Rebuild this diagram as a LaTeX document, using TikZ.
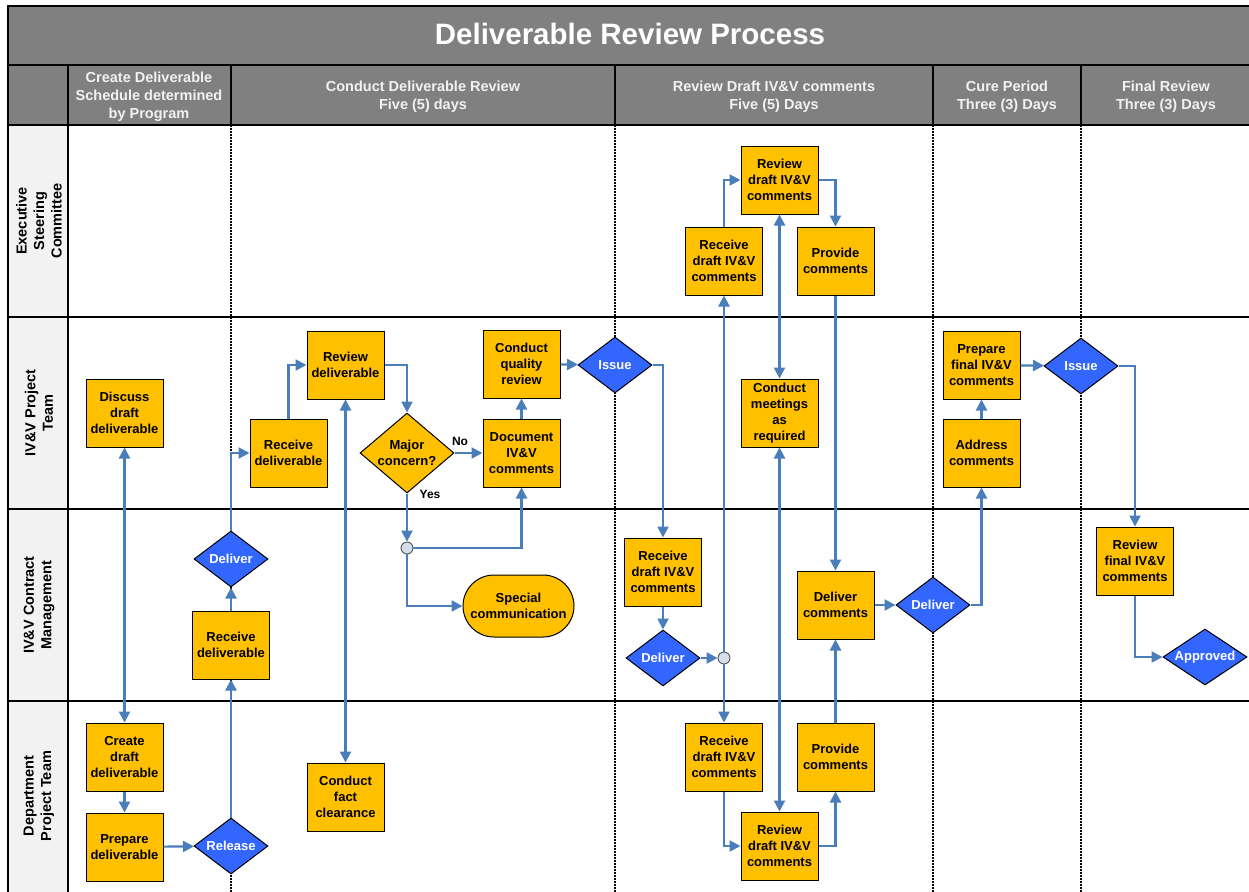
\documentclass[tikz,border=0pt]{standalone}
\usepackage{fontspec}
\setmainfont{Liberation Sans}
\usetikzlibrary{arrows.meta,shapes.geometric,positioning}

\definecolor{taskyellow}{HTML}{FFC000}
\definecolor{flowblue}{HTML}{4A7EBB}
\definecolor{gateblue}{HTML}{3366FF}
\definecolor{headgray}{HTML}{808080}
\definecolor{lanegray}{HTML}{F2F2F2}
\definecolor{junctionfill}{HTML}{D5DDEA}

\begin{document}
\begin{tikzpicture}[x=1pt,y=-1pt,>={Triangle[length=11pt,width=11pt]},
    flowline/.style={->,draw=flowblue,line width=2.2pt},
    task/.style={rectangle,draw=black,fill=taskyellow,line width=1pt,
      minimum width=77pt,minimum height=68pt,inner sep=0pt,align=center,
      font=\fontsize{13}{16}\selectfont\bfseries},
    gate/.style={diamond,draw=black,fill=gateblue,line width=1pt,
      minimum width=74pt,minimum height=56pt,inner sep=0pt,shape aspect=1.3,
      align=center,text=white,font=\fontsize{13}{16}\selectfont\bfseries},
    junction/.style={circle,draw=black!75,fill=junctionfill,line width=0.8pt,
      minimum size=12pt,inner sep=0pt},
    colhead/.style={text=lanegray,align=center,font=\fontsize{14.5}{18}\selectfont\bfseries},
    lanehead/.style={rotate=90,align=center,font=\fontsize{14.5}{17.5}\selectfont\bfseries},
    edgelabel/.style={font=\fontsize{12}{14}\selectfont\bfseries},
    laneline/.style={line width=2.5pt},
    phaseline/.style={line width=1.5pt,dash pattern=on 1.5pt off 1.5pt}]

  \useasboundingbox (0,0) rectangle (1249,891);
  \clip (0,0) rectangle (1249,891);

  % swimlane grid
  \fill[headgray] (8,6) rectangle (1260,125);
  \fill[lanegray] (8,125) rectangle (68,900);
  \draw[line width=2pt] (1260,6) -- (8,6) -- (8,900);
  \draw[line width=2pt] (68,65) -- (68,900);
  \foreach \ly in {65,125,317,509,701}
    \draw[laneline] (8,\ly) -- (1260,\ly);
  \foreach \lx in {231,615,933,1081} {
    \draw[line width=2pt] (\lx,65) -- (\lx,125);
    \draw[phaseline] (\lx,125) -- (\lx,900);
  }

  \node[text=white,font=\fontsize{29.5}{34}\selectfont\bfseries] (title) at (630,34) {Deliverable Review Process};
  \node[colhead] (hcreate) at (149,97) {Create Deliverable\\Schedule determined\\by Program};
  \node[colhead] (hconduct) at (423,97) {Conduct Deliverable Review\\Five (5) days};
  \node[colhead] (hreview) at (774,97) {Review Draft IV\&V comments\\Five (5) Days};
  \node[colhead] (hcure) at (1007,97) {Cure Period\\Three (3) Days};
  \node[colhead] (hfinal) at (1166,97) {Final Review\\Three (3) Days};

  \node[lanehead] (lexec) at (39,221) {Executive\\Steering\\Committee};
  \node[lanehead] (lteam) at (39,413) {IV\&V Project\\Team};
  \node[lanehead] (lcontract) at (39,605) {IV\&V Contract\\Management};
  \node[lanehead] (ldept) at (39,796) {Department\\Project Team};

  % Department Project Team
  \node[task] (cdraft) at (124.5,757) {Create\\draft\\deliverable};
  \node[task] (prep) [below=21pt of cdraft] {Prepare\\deliverable};
  \node[gate] (release) at (231,846) {Release};
  \node[task] (fact) at (345.5,797) {Conduct\\fact\\clearance};
  \node[task] (rddept) at (724,757) {Receive\\draft IV\&V\\comments};
  \node[task] (rvdept) at (779.5,846) {Review\\draft IV\&V\\comments};
  \node[task] (pcdept) at (835.5,757) {Provide\\comments};

  % IV&V Contract Management
  \node[task] (rcvcm) at (231,645) {Receive\\deliverable};
  \node[gate] (deliv1) at (231,559) {Deliver};
  \node[junction] (junc1) at (407,548) {};
  \node[task,rounded corners=31pt,minimum width=111pt,minimum height=62pt] (special) at (518.5,606) {Special\\communication};
  \node[task] (rdcm) at (663,572) {Receive\\draft IV\&V\\comments};
  \node[gate] (deliv2) at (663,658) {Deliver};
  \node[junction] (junc2) at (724,658) {};
  \node[task] (delc) at (835.5,605) {Deliver\\comments};
  \node[gate] (deliv3) at (933,605) {Deliver};
  \node[task] (revf) at (1135,561) {Review\\final IV\&V\\comments};
  \node[gate,minimum width=84pt,shape aspect=1.5] (approved) at (1205,657) {Approved};

  % IV&V Project Team
  \node[task] (discuss) at (124.5,413) {Discuss\\draft\\deliverable};
  \node[task] (rcvd) at (288.5,453) {Receive\\deliverable};
  \node[task] (revd) at (345.5,365) {Review\\deliverable};
  \node[gate,fill=taskyellow,text=black,minimum width=94pt,minimum height=80pt,shape aspect=1.2] (major) at (407,453) {Major\\concern?};
  \node[task] (docu) at (521.5,453) {Document\\IV\&V\\comments};
  \node[task] (quality) [above=20pt of docu] {Conduct\\quality\\review};
  \node[gate] (issue1) at (615,365) {Issue};
  \node[task] (meet) at (779.5,413) {Conduct\\meetings\\as\\required};
  \node[task] (addr) at (981.5,453) {Address\\comments};
  \node[task] (prepf) [above=19pt of addr] {Prepare\\final IV\&V\\comments};
  \node[gate] (issue2) at (1081,366) {Issue};
  \node[edgelabel] (nolbl) at (460,441) {No};
  \node[edgelabel] (yeslbl) at (430,494) {Yes};

  % Executive Steering Committee
  \node[task] (rdexec) at (724,261) {Receive\\draft IV\&V\\comments};
  \node[task] (rvexec) at (779.5,180) {Review\\draft IV\&V\\comments};
  \node[task] (pcexec) at (835.5,261) {Provide\\comments};

  \begin{scope}[flowline]
    \path (discuss) edge[<->] (cdraft)
          (cdraft) edge (prep)
          (prep) edge (release)
          (release) edge (rcvcm)
          (rcvcm) edge (deliv1)
          (revd) edge[<->] (fact)
          (major) edge (docu)
          (major) edge (junc1)
          (docu) edge (quality)
          (quality) edge (issue1)
          (rdcm) edge (deliv2)
          (deliv2) edge (junc2)
          (junc2) edge (rdexec)
          (junc2) edge (rddept)
          (rvexec) edge[<->] (meet)
          (meet) edge[<->] (rvdept)
          (pcexec) edge (delc)
          (pcdept) edge (delc)
          (delc) edge (deliv3)
          (addr) edge (prepf)
          (prepf) edge (issue2);
    \draw (deliv1) |- (rcvd);
    \draw (rcvd) |- (revd);
    \draw (revd) -| (major);
    \draw (junc1) -| (docu);
    \draw (junc1) |- (special);
    \draw (issue1) -| (rdcm);
    \draw (rdexec) |- (rvexec);
    \draw (rvexec) -| (pcexec);
    \draw (rddept) |- (rvdept);
    \draw (rvdept) -| (pcdept);
    \draw (deliv3) -| (addr);
    \draw (issue2) -| (revf);
    \draw (revf) |- (approved);
  \end{scope}
\end{tikzpicture}
\end{document}
